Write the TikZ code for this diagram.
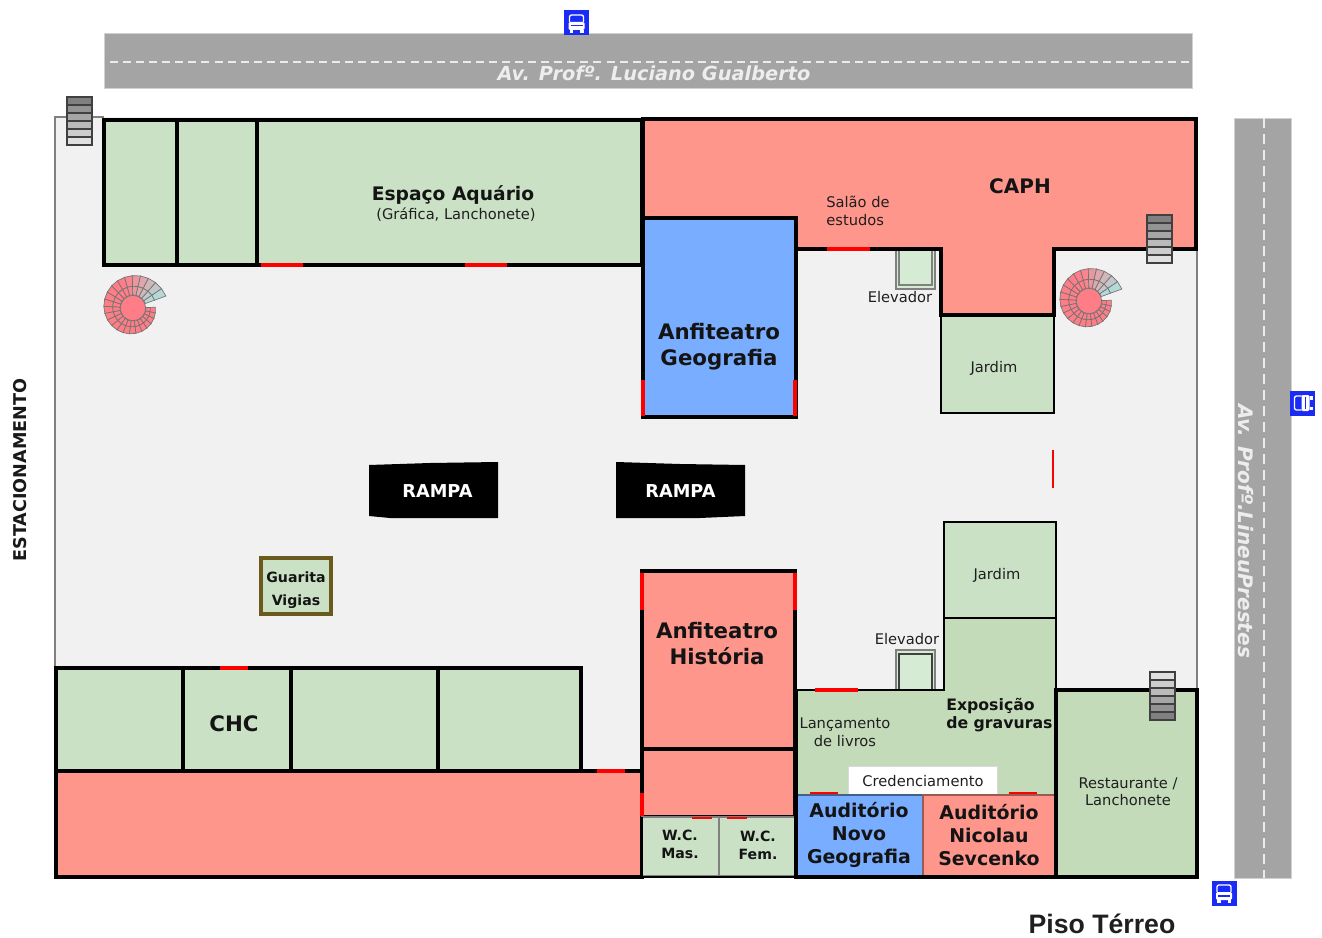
\documentclass[tikz,border=0pt]{standalone}
\usepackage{fontspec}
\setmainfont{DejaVu Sans}
\newfontfamily\titlefont{Liberation Sans}
\usepackage{tikz}
\usetikzlibrary{arrows.meta, positioning}

\definecolor{roomgreen}{HTML}{CAE1C5}
\definecolor{roomgreenb}{HTML}{C4DBB9}
\definecolor{roomred}{HTML}{FF968C}
\definecolor{roomblue}{HTML}{79ADFF}
\definecolor{floorgray}{HTML}{F1F1F1}
\definecolor{roadgray}{HTML}{A4A4A4}
\definecolor{busblue}{HTML}{1A2BF5}
\definecolor{boothbrown}{HTML}{6B5A1E}
\definecolor{liftgreen}{HTML}{D6EBD3}
\definecolor{stepred}{HTML}{FF7D86}
\definecolor{stepblue}{HTML}{B5D8D8}

% stairs: x, y of top left, first and last shade of black
\newcommand{\flatstair}[4]{
  \foreach \s in {0,...,5}{
    \pgfmathsetmacro{\shade}{#3+(#4-#3)*\s/5}
    \draw[black!75, line width=1.2pt, fill=black!\shade]
      (#1,{#2+\s*8}) rectangle (#1+25,{#2+\s*8+8});
  }
}
% spiral stair: x, y of its centre
\newcommand{\spiralstair}[2]{
  \foreach \a in {0,...,23}{
    \pgfmathsetmacro{\tA}{20+\a*14.25}
    \pgfmathsetmacro{\tB}{20+(\a+1)*14.25}
    \pgfmathsetmacro{\rA}{35-0.037*(\tA-20)}
    \pgfmathsetmacro{\rB}{35-0.037*(\tB-20)}
    \pgfmathsetmacro{\mix}{min(100,\a*18)}
    \pgfmathsetmacro{\kA}{13+(\rA-13)*0.45}
    \pgfmathsetmacro{\kB}{13+(\rB-13)*0.45}
    \draw[black!55, line width=0.5pt, fill=stepred!\mix!stepblue]
      ({#1+\kA*cos(\tA)},{#2-\kA*sin(\tA)}) -- ({#1+\rA*cos(\tA)},{#2-\rA*sin(\tA)})
      -- ({#1+\rB*cos(\tB)},{#2-\rB*sin(\tB)}) -- ({#1+\kB*cos(\tB)},{#2-\kB*sin(\tB)}) -- cycle;
    \draw[black!55, line width=0.5pt, fill=stepred!\mix!stepblue]
      ({#1+13*cos(\tA)},{#2-13*sin(\tA)}) -- ({#1+\kA*cos(\tA)},{#2-\kA*sin(\tA)})
      -- ({#1+\kB*cos(\tB)},{#2-\kB*sin(\tB)}) -- ({#1+13*cos(\tB)},{#2-13*sin(\tB)}) -- cycle;
  }
  \draw[black!55, line width=0.5pt, fill=stepred] (#1,#2) circle[radius=9.5pt];
}
% bus sign: x, y of the centre and rotation
\newcommand{\busicon}[3]{
  \begin{scope}[shift={(#1,#2)}, rotate=#3]
    \fill[busblue] (-12.5,-12.5) rectangle (12.5,12.5);
    \draw[white, line width=1pt, rounded corners=1.5pt] (-7,-1) -- (-7,-8) -- (7,-8) -- (7,-1);
    \fill[white, rounded corners=1pt] (-8,-1) rectangle (8,7);
    \fill[white] (-7,7) rectangle (-3.5,10);
    \fill[white] (3.5,7) rectangle (7,10);
    \fill[busblue] (-6,2) rectangle (6,3.5);
  \end{scope}
}

\begin{document}
\begin{tikzpicture}[
    x=0.75pt, y=-0.75pt,
    wall/.style={draw=black, line width=2.6pt, line join=miter},
    heavywall/.style={draw=black, line width=3.6pt, line join=miter},
    thinwall/.style={draw=black, line width=2pt},
    softwall/.style={draw=black!50, line width=1.5pt},
    door/.style={draw=red, line width=2.6pt},
    road/.style={fill=roadgray, draw=black!18, line width=0.6pt},
    lane/.style={draw=black!8, line width=1.7pt, dash pattern=on 6pt off 3.8pt},
    lanev/.style={draw=black!8, line width=1.7pt, dash pattern=on 7.5pt off 4.5pt},
    roadname/.style={text=white!93!black, font=\fontsize{14.5}{16}\selectfont\bfseries\itshape},
    big/.style={text=black!92, font=\fontsize{16}{19.6}\selectfont\bfseries, align=center},
    mid/.style={text=black!92, font=\fontsize{14.2}{17}\selectfont\bfseries, align=center},
    small/.style={text=black!88, font=\fontsize{11}{13.5}\selectfont, align=center},
    smallbold/.style={text=black!92, font=\fontsize{10.6}{13.5}\selectfont\bfseries, align=center},
    rampa/.style={minimum width=96pt, minimum height=40pt, inner sep=0pt,
      text=white, font=\fontsize{13.3}{15}\selectfont\bfseries},
    lift/.style={draw=black!50, fill=liftgreen, line width=0.8pt}
]
\useasboundingbox (0,0) rectangle (1322,938);

% ===== Streets =====
\fill[floorgray] (55,117) rectangle (1197,877);
\draw[softwall] (55,668) -- (55,117) -- (104,117);
\draw[softwall] (1197,249) -- (1197,690);
\path[road] (104,33) rectangle (1192,88);
\draw[lane] (110,62) -- (1192,62);
\node[roadname] (luciano) at (654,73) {Av. Profº. Luciano Gualberto};
\path[road] (1234,118) rectangle (1291,878);
\draw[lanev] (1264,118) -- (1264,878);
\node[roadname, font=\fontsize{15}{16}\selectfont\bfseries\itshape, rotate=-90] (lineu) at (1246,531) {Av. Profº.LineuPrestes};
\node[text=black!90, rotate=90, font=\fontsize{13.2}{15}\selectfont\bfseries] (parking) at (20,470) {ESTACIONAMENTO};

% ===== Upper block =====
\draw[heavywall, fill=roomgreen] (104,120) rectangle (177,265);
\draw[heavywall, fill=roomgreen] (177,120) rectangle (257,265);
\draw[heavywall, fill=roomgreen] (257,120) rectangle (642,265);
\draw[door] (261,265) -- (303,265);
\draw[door] (465,265) -- (507,265);
\node[big, font=\fontsize{14}{16}\selectfont\bfseries] (aquario) at (453,195) {Espaço Aquário};
\node[small] (grafica) at (456,214.5) {(Gráfica, Lanchonete)};

% ===== CAPH =====
\draw[lift] (896,249) rectangle (935,289);
\draw[black!50, line width=0.8pt] (899,249) -- (899,285) -- (932,285) -- (932,249);
\draw[wall, fill=roomred] (643,119) -- (1196,119) -- (1196,249) -- (1054,249) -- (1054,315)
  -- (941,315) -- (941,249) -- (796,249) -- (796,218) -- (643,218) -- cycle;
\draw[door] (827,249) -- (870,249);
\node[big, font=\fontsize{15}{16}\selectfont\bfseries] (caph) at (1020,186.5) {CAPH};
\node[small, align=left] (salao) at (858,211) {Salão de\\estudos};
\node[small] (elevadorA) at (900,297.5) {Elevador};

% ===== Anfiteatro Geografia =====
\draw[wall, fill=roomblue] (643,218) rectangle (796,417);
\draw[door] (643,380) -- (643,416);
\draw[door] (795,380) -- (795,416);
\node[big] (geografia) at (719,346.5) {Anfiteatro\\Geografia};

% ===== Gardens =====
\draw[thinwall, fill=roomgreen] (941,315) rectangle (1054,413);
\draw[wall] (941,315) -- (1054,315);
\node[small] (jardimA) at (994,368) {Jardim};
\draw[door, line width=2pt] (1053,450) -- (1053,488);

% ===== Ramps and booth =====
\fill[black] (369,465) -- (430,463) -- (498,462) -- (498,518) -- (390,518) -- (369,516) -- cycle;
\fill[black] (616,462) -- (680,464) -- (745,465) -- (745,516) -- (700,518) -- (616,518) -- cycle;
\node[rampa] (rampaA) at (433.5,491.5) {\hspace{6pt}RAMPA};
\node[rampa] (rampaB) at (680.5,491.5) {RAMPA};
\draw[boothbrown, line width=3pt, fill=roomgreen] (261,558) rectangle (331,614);
\node[smallbold, font=\fontsize{10.6}{17.5}\selectfont\bfseries] (guarita) at (296,590) {Guarita\\Vigias};

% ===== Lower left block =====
\draw[wall, fill=roomred] (56,771) rectangle (642,877);
\draw[wall, fill=roomgreen] (56,668) rectangle (183,771);
\draw[wall, fill=roomgreen] (183,668) rectangle (291,771);
\draw[wall, fill=roomgreen] (291,668) rectangle (438,771);
\draw[wall, fill=roomgreen] (438,668) rectangle (581,771);
\draw[door] (220,668) -- (248,668);
\draw[door] (597,771) -- (625,771);
\node[big] (chc) at (234,723.5) {CHC};

% ===== Anfiteatro Historia and W.C. =====
\draw[wall, fill=roomred] (642,571) rectangle (795,749);
\draw[wall, fill=roomred] (642,749) rectangle (795,817);
\draw[door] (642,573) -- (642,610);
\draw[door] (795,573) -- (795,610);
\draw[door] (642,793) -- (642,816);
\node[big] (historia) at (717,643.5) {Anfiteatro\\História};
\draw[softwall, fill=roomgreen] (642,817) rectangle (719,876);
\draw[softwall, fill=roomgreen] (719,817) rectangle (795,876);
\draw[door, line width=2pt] (692,818) -- (712,818);
\draw[door, line width=2pt] (727,818) -- (747,818);
\draw[thinwall] (642,817) -- (642,877) -- (795,877);
\node[smallbold] (wcm) at (680,844) {W.C.\\Mas.};
\node[smallbold] (wcf) at (758,845) {W.C.\\Fem.};

% ===== Lower right block =====
\draw[lift] (896,650) rectangle (935,690);
\draw[black!75, line width=1pt] (899,690) -- (899,654) -- (932,654) -- (932,690);
\draw[thinwall, fill=roomgreenb] (796,690) -- (944,690) -- (944,618) -- (1056,618) -- (1056,795) -- (796,795) -- cycle;
\draw[thinwall, fill=roomgreen] (944,522) rectangle (1056,618);
\node[small] (jardimB) at (997,575) {Jardim};
\draw[door] (815,690) -- (858,690);
\node[small] (elevadorB) at (907,639.5) {Elevador};
\node[small] (lancamento) at (845,732) {Lançamento\\de livros};
\node[smallbold, anchor=west, inner sep=0pt, align=left, font=\fontsize{11.8}{13.8}\selectfont\bfseries] (gravuras) at (946,715) {Exposição\\de gravuras};
\draw[black!15, fill=white, line width=0.6pt] (848,766) rectangle (997,794);
\node[small] (credenciamento) at (923,781) {Credenciamento};
\draw[wall, fill=roomgreenb] (1056,690) rectangle (1197,877);
\node[small, font=\fontsize{11}{12.5}\selectfont] (restaurante) at (1128,791.5) {Restaurante /\\Lanchonete};
\draw[black!45!roomblue, line width=1.6pt, fill=roomblue] (796,795) rectangle (923,876);
\draw[black!40!roomred, line width=1.6pt, fill=roomred] (923,795) rectangle (1056,876);
\draw[door, line width=2pt] (810,793) -- (838,793);
\draw[door, line width=2pt] (1009,793) -- (1037,793);
\draw[wall] (796,690) -- (796,877) -- (1197,877);
\draw[wall] (1056,690) -- (1056,877);
\node[mid] (novo) at (859,835) {Auditório\\Novo\\Geografia};
\node[mid] (nicolau) at (989,835) {Auditório\\Nicolau\\Sevcenko};

% ===== Stairs =====
\flatstair{67}{97}{50}{12}
\flatstair{1147}{215}{50}{12}
\flatstair{1150}{672}{12}{50}
\spiralstair{133}{308}
\spiralstair{1089}{301}

% ===== Bus stops and title =====
\busicon{576.5}{23}{0}
\busicon{1302.5}{403}{90}
\busicon{1224}{893}{0}
\node[text=black!88, font=\titlefont\fontsize{20}{24}\selectfont\bfseries] (piso) at (1102,924) {Piso Térreo};
\end{tikzpicture}
\end{document}
